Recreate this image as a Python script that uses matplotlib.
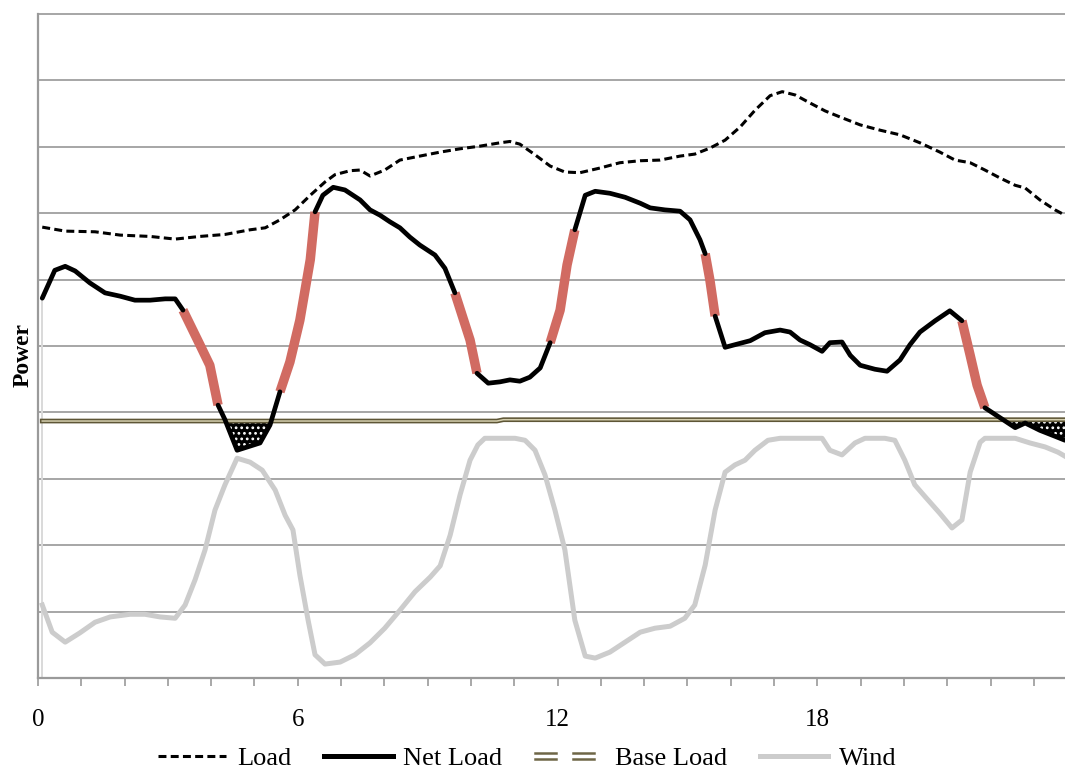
import numpy as np
import matplotlib
matplotlib.use("Agg")
import matplotlib.pyplot as plt
from matplotlib.lines import Line2D
from matplotlib.legend_handler import HandlerBase

plt.rcParams['font.family'] = ['Liberation Serif', 'DejaVu Serif']
plt.rcParams['hatch.linewidth'] = 1.2

# ---------------- data (hours, power units) ----------------
load_h = [0.1, 0.63, 1.32, 1.90, 2.59, 3.17, 3.74, 4.32, 4.90, 5.25, 5.59, 5.94, 6.29, 6.63,
          6.86, 7.21, 7.44, 7.67, 8.01, 8.36, 8.82, 9.29, 9.75, 10.21, 10.67, 10.90, 11.13,
          11.48, 11.83, 12.17, 12.52, 12.98, 13.44, 13.91, 14.37, 14.83, 15.17, 15.52, 15.87,
          16.22, 16.56, 16.91, 17.19, 17.49, 17.83, 18.18, 18.52, 18.99, 19.45, 19.91, 20.37,
          20.83, 21.18, 21.53, 21.87, 22.22, 22.57, 22.80, 23.14, 23.49, 23.72]
load_v = [6.79, 6.73, 6.72, 6.67, 6.65, 6.61, 6.65, 6.68, 6.75, 6.78, 6.90, 7.05, 7.27, 7.47,
          7.58, 7.64, 7.65, 7.56, 7.65, 7.80, 7.86, 7.92, 7.97, 8.01, 8.06, 8.08, 8.04,
          7.88, 7.71, 7.62, 7.61, 7.68, 7.76, 7.79, 7.80, 7.86, 7.89, 7.98, 8.10,
          8.30, 8.55, 8.77, 8.83, 8.78, 8.66, 8.54, 8.45, 8.33, 8.25, 8.18, 8.06,
          7.92, 7.80, 7.76, 7.65, 7.53, 7.42, 7.38, 7.20, 7.05, 6.97]

net_h = [0.1, 0.39, 0.63, 0.86, 1.20, 1.55, 1.90, 2.24, 2.59, 2.94, 3.17, 3.35, 3.74, 3.97,
         4.16, 4.32, 4.60, 5.13, 5.36, 5.59, 5.82, 6.05, 6.29, 6.40, 6.58, 6.82, 7.09, 7.44,
         7.67, 7.90, 8.13, 8.36, 8.59, 8.82, 9.17, 9.40, 9.63, 9.98, 10.14, 10.40, 10.67,
         10.90, 11.13, 11.36, 11.60, 11.83, 12.06, 12.22, 12.40, 12.64, 12.87, 13.21, 13.56,
         13.91, 14.14, 14.48, 14.83, 15.06, 15.29, 15.41, 15.52, 15.64, 15.87, 16.10, 16.45,
         16.79, 17.14, 17.37, 17.60, 17.83, 18.11, 18.29, 18.57, 18.76, 18.99, 19.33, 19.61,
         19.91, 20.14, 20.37, 20.72, 21.06, 21.34, 21.53, 21.69, 21.87, 22.22, 22.57, 22.80,
         23.14, 23.49, 23.72]
net_v = [5.72, 6.14, 6.20, 6.13, 5.95, 5.80, 5.75, 5.69, 5.69, 5.71, 5.71, 5.54, 5.02, 4.71,
         4.11, 3.89, 3.43, 3.54, 3.81, 4.31, 4.76, 5.39, 6.30, 7.02, 7.27, 7.39, 7.35, 7.20,
         7.05, 6.97, 6.87, 6.78, 6.64, 6.52, 6.37, 6.17, 5.80, 5.09, 4.59, 4.44, 4.46,
         4.49, 4.47, 4.53, 4.67, 5.05, 5.54, 6.22, 6.75, 7.27, 7.33, 7.30, 7.24,
         7.15, 7.08, 7.05, 7.03, 6.90, 6.60, 6.39, 5.99, 5.45, 4.98, 5.02, 5.08,
         5.20, 5.24, 5.21, 5.09, 5.02, 4.92, 5.05, 5.06, 4.86, 4.71, 4.65, 4.62,
         4.79, 5.02, 5.21, 5.38, 5.53, 5.38, 4.86, 4.41, 4.07, 3.92, 3.77, 3.84,
         3.73, 3.64, 3.58]

# steep ramps highlighted in red (start hour, end hour)
ramp_start = [3.35, 5.59, 9.63, 11.83, 15.41, 21.34]
ramp_end = [4.16, 6.40, 10.14, 12.40, 15.64, 21.87]

base_h = [0.1, 10.60, 10.75, 23.72]
base_v = [3.87, 3.87, 3.89, 3.89]

wind_h = [0.1, 0.33, 0.63, 0.97, 1.32, 1.67, 2.13, 2.47, 2.82, 3.17, 3.40, 3.63, 3.86, 4.09,
          4.32, 4.60, 4.90, 5.18, 5.48, 5.71, 5.89, 6.05, 6.24, 6.40, 6.63, 6.98, 7.32, 7.67,
          8.01, 8.36, 8.71, 9.06, 9.29, 9.52, 9.75, 9.98, 10.16, 10.32, 10.67, 11.02, 11.25,
          11.48, 11.71, 11.94, 12.17, 12.40, 12.64, 12.87, 13.21, 13.56, 13.91, 14.25, 14.60,
          14.94, 15.17, 15.41, 15.64, 15.87, 16.10, 16.33, 16.56, 16.86, 17.14, 17.60, 18.11,
          18.29, 18.57, 18.87, 19.10, 19.56, 19.79, 20.02, 20.25, 20.49, 20.83, 21.11, 21.34,
          21.53, 21.76, 21.87, 22.22, 22.57, 22.91, 23.26, 23.56, 23.72]
wind_v = [1.10, 0.69, 0.54, 0.68, 0.84, 0.92, 0.96, 0.96, 0.92, 0.90, 1.10, 1.48, 1.93, 2.53,
          2.91, 3.31, 3.25, 3.13, 2.83, 2.45, 2.23, 1.55, 0.87, 0.35, 0.21, 0.24, 0.35, 0.53,
          0.75, 1.02, 1.30, 1.52, 1.69, 2.15, 2.76, 3.28, 3.51, 3.61, 3.61, 3.61, 3.58,
          3.43, 3.06, 2.53, 1.93, 0.87, 0.33, 0.30, 0.39, 0.54, 0.69, 0.75, 0.78,
          0.90, 1.10, 1.70, 2.53, 3.10, 3.21, 3.28, 3.43, 3.58, 3.61, 3.61, 3.61,
          3.43, 3.36, 3.54, 3.61, 3.61, 3.58, 3.28, 2.91, 2.73, 2.48, 2.26, 2.38,
          3.10, 3.55, 3.61, 3.61, 3.61, 3.54, 3.48, 3.40, 3.34]

x_major = [0, 6, 12, 18]
x_minor = list(range(0, 24))
series_names = ["Load", "Net Load", "Base Load", "Wind"]

# ---------------- figure ----------------
fig = plt.figure(figsize=(10.65, 7.77), dpi=100)
ax = fig.add_axes([0.0356, 0.1274, 0.9644, 0.8546])
ax.set_xlim(0, 23.72)
ax.set_ylim(0, 10)

grid_c = '#a6a6a6'
for yv in range(1, 11):
    ax.axhline(yv, color=grid_c, lw=1.4, zorder=1, clip_on=False)

for side in ['top', 'right']:
    ax.spines[side].set_visible(False)
for side in ['left', 'bottom']:
    ax.spines[side].set_color('#9a9a9a')
    ax.spines[side].set_linewidth(1.6)

ax.set_yticks([])
ax.set_xticks(x_major)
ax.set_xticklabels([str(v) for v in x_major], fontsize=18)
ax.set_xticks(x_minor, minor=True)
ax.tick_params(axis='x', which='both', direction='out', length=6, width=1.2,
               color='#9a9a9a', pad=16)

net_h_a = np.array(net_h)
net_v_a = np.array(net_v)
base_on_net = np.interp(net_h_a, base_h, base_v)

# thin grey drop line at start
ax.plot([net_h[0], net_h[0]], [0, net_v[0]], color='#d9d9d9', lw=1.4, zorder=2)

# wind
ax.plot(wind_h, wind_v, color='#cccccc', lw=3.6, zorder=3, solid_joinstyle='round')

# curtailment fill
ax.fill_between(net_h_a, net_v_a, base_on_net, where=net_v_a < base_on_net,
                interpolate=True, facecolor='black', edgecolor='white',
                hatch='...', linewidth=0, zorder=4)

# base load (double line)
ax.plot(base_h, base_v, color='#5e5636', lw=3.4, zorder=5)
ax.plot(base_h, base_v, color='#d6d0b0', lw=1.1, zorder=5)

# load
ax.plot(load_h, load_v, color='black', lw=2.2, dashes=(2.6, 1.4), zorder=6)

# net load: red ramps with black elsewhere
interior = np.zeros(len(net_h), dtype=bool)
for s, e in zip(ramp_start, ramp_end):
    m = (net_h_a >= s - 1e-9) & (net_h_a <= e + 1e-9)
    ax.plot(net_h_a[m], net_v_a[m], color='#d16b62', lw=6.8, zorder=7,
            solid_capstyle='butt', solid_joinstyle='round')
    interior |= (net_h_a > s + 1e-9) & (net_h_a < e - 1e-9)
black_v = np.where(interior, np.nan, net_v_a)
ax.plot(net_h_a, black_v, color='black', lw=3.4, zorder=8,
        solid_capstyle='round', solid_joinstyle='round')

fig.text(0.0215, 0.543, "Power", rotation=90, fontsize=17, fontweight='bold',
         ha='center', va='center')


class DoubleDashHandler(HandlerBase):
    def create_artists(self, legend, orig_handle, xdescent, ydescent, width, height,
                       fontsize, trans):
        arts = []
        y0 = height / 2 - ydescent
        x0 = -xdescent
        for seg in [(0.0, 0.3), (0.55, 0.85)]:
            for dy in (-2.2, 2.2):
                l = Line2D([x0 + seg[0] * width, x0 + seg[1] * width], [y0 + dy, y0 + dy],
                           color='#6e6646', lw=1.8, transform=trans)
                arts.append(l)
        return arts


h_load = Line2D([], [], color='black', lw=2.2, dashes=(2.6, 1.4))
h_net = Line2D([], [], color='black', lw=3.6)
h_base = Line2D([], [], color='#7a7250')
h_wind = Line2D([], [], color='#cccccc', lw=3.6)

leg = fig.legend([h_load, h_net, h_base, h_wind], series_names, loc='center',
                 bbox_to_anchor=(0.495, 0.024), ncol=4, frameon=False, fontsize=19,
                 handlelength=2.6, handletextpad=0.4, columnspacing=1.25,
                 borderpad=0.1, handler_map={h_base: DoubleDashHandler()})

fig.savefig("out.png", dpi=100)
